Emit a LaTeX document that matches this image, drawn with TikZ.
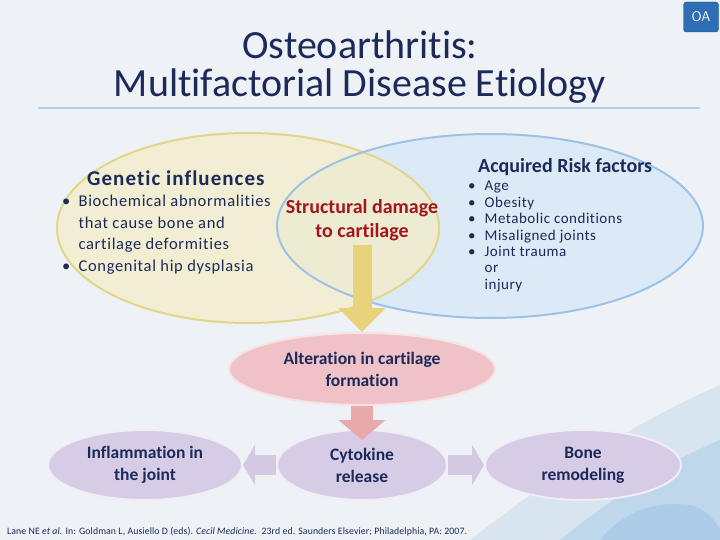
\documentclass[tikz,border=0pt]{standalone}
\usepackage{fontspec}
\setmainfont{Carlito}[Ligatures=NoCommon]
\usetikzlibrary{shapes.geometric,arrows.meta}
\definecolor{bgc}{HTML}{EEF2F6}
\definecolor{navy}{HTML}{1C2A5A}
\definecolor{oablue}{HTML}{2F6DB5}
\definecolor{yfill}{HTML}{F2EDCB}
\definecolor{ydraw}{HTML}{E3D58A}
\definecolor{bfill}{HTML}{DCE9F6}
\definecolor{bdraw}{HTML}{9EC2E6}
\definecolor{pinkf}{HTML}{EEC2C6}
\definecolor{pinkd}{HTML}{F7E2E4}
\definecolor{purf}{HTML}{D7CCE5}
\definecolor{purd}{HTML}{F1ECF6}
\definecolor{darkred}{HTML}{A3141C}
\definecolor{yarrow}{HTML}{E8D37C}
\definecolor{parrow}{HTML}{E9A9AA}
\definecolor{larrow}{HTML}{D3C9E2}
\definecolor{splash}{HTML}{5C9FD6}
\tikzset{
  txt/.style={text=navy, inner sep=0pt},
  oval/.style={ellipse, line width=2pt, inner sep=0pt},
  boldtxt/.style={txt, font=\bfseries\fontsize{17.5}{22}\selectfont, align=center}
}
\begin{document}
\begin{tikzpicture}[x=1pt,y=-1pt]
\useasboundingbox (0,0) rectangle (720,540);
\fill[bgc] (0,0) rectangle (720,540);
% watercolor splash
\fill[splash, opacity=0.15] (720,385) .. controls (640,420) and (560,470) .. (470,540) -- (720,540) -- cycle;
\fill[splash, opacity=0.2] (720,440) .. controls (660,465) and (610,500) .. (560,540) -- (720,540) -- cycle;
\fill[splash, opacity=0.18] (600,540) .. controls (620,515) and (650,500) .. (690,505) .. controls (705,508) and (715,520) .. (720,530) -- (720,540) -- cycle;
% OA tag
\node[fill=oablue, draw=oablue!70!black, rounded corners=3pt, minimum width=35pt, minimum height=30pt, text=white, font=\sffamily\fontsize{14}{14}\selectfont, inner sep=0pt] (oa) at (701,17) {OA};
% title
\node[txt, font=\fontsize{40}{38}\selectfont, align=center] (title) at (360,67) {Osteoarthritis:\\Multifactorial Disease Etiology};
\draw[bdraw!80, line width=1.2pt] (38,108) -- (700,108);
% ellipses: blue fill, yellow on top, blue outline last
\node[oval, fill=bfill, draw=none, minimum width=426pt, minimum height=184pt] (bell) at (490,226) {};
\node[oval, fill=yfill, fill opacity=0.8, draw=ydraw, minimum width=382pt, minimum height=190pt] (yell) at (248,228) {};
\node[oval, draw=bdraw, minimum width=426pt, minimum height=184pt] (bellline) at (490,226) {};
% genetic text
\node[txt, font=\bfseries\fontsize{21}{24}\selectfont\addfontfeature{LetterSpace=5}, anchor=base west] (gen) at (87,186) {Genetic influences};
\node[txt, font=\fontsize{16.5}{21.5}\selectfont\addfontfeature{LetterSpace=4}, align=left, anchor=north west] (genlist) at (62,195)
 {\textbullet\hspace{0.5em}Biochemical abnormalities\\
  \hphantom{\textbullet\hspace{0.5em}}that cause bone and\\
  \hphantom{\textbullet\hspace{0.5em}}cartilage deformities\\
  \textbullet\hspace{0.5em}Congenital hip dysplasia};
% structural damage
\node[text=darkred, inner sep=0pt, font=\bfseries\fontsize{20}{24}\selectfont, align=center] (sd) at (362,220) {Structural damage\\to cartilage};
% acquired
\node[txt, font=\bfseries\fontsize{20}{22}\selectfont, anchor=base west] (acq) at (478,173) {Acquired Risk factors};
\node[txt, font=\fontsize{15}{16.4}\selectfont\addfontfeature{LetterSpace=3.5}, align=left, anchor=north west] (acqlist) at (468,181)
 {\textbullet\hspace{0.6em}Age\\
  \textbullet\hspace{0.6em}Obesity\\
  \textbullet\hspace{0.6em}Metabolic conditions\\
  \textbullet\hspace{0.6em}Misaligned joints\\
  \textbullet\hspace{0.6em}Joint trauma\\
  \hphantom{\textbullet\hspace{0.6em}}or\\
  \hphantom{\textbullet\hspace{0.6em}}injury};
% alteration
\node[oval, fill=pinkf, draw=pinkd, minimum width=266pt, minimum height=72pt, boldtxt] (alt) at (362,369) {Alteration in cartilage\\formation};
% bottom row
\node[oval, fill=purf, draw=purd, minimum width=194pt, minimum height=70pt, boldtxt] (inf) at (145,465) {Inflammation in\\the joint};
\node[oval, fill=purf, draw=purd, minimum width=170pt, minimum height=70pt, boldtxt] (cyt) at (362,465) {Cytokine\\release};
\node[oval, fill=purf, draw=purd, minimum width=196pt, minimum height=70pt, boldtxt] (bone) at (583,465) {Bone\\remodeling};
% arrows
\coordinate (ys) at (362,245);
\coordinate (ptip) at (362,440);
\draw[yarrow, line width=19pt, -{Triangle[width=46pt,length=24pt]}] (ys) -- (alt.north);
\draw[parrow, line width=22pt, -{Triangle[width=46pt,length=20pt]}] (alt.south) -- (ptip);
\draw[larrow, line width=20pt, -{Triangle[width=40pt,length=12pt]}] (cyt.west) -- (inf.east);
\draw[larrow, line width=20pt, -{Triangle[width=40pt,length=12pt]}] (cyt.east) -- (bone.west);
% citation
\node[txt, font=\fontsize{9.8}{10}\selectfont\addfontfeature{LetterSpace=1}, anchor=base west] (cite) at (7,534) {Lane NE \textit{et al.} In: Goldman L, Ausiello D (eds). \textit{Cecil Medicine.}\ \ 23rd ed. Saunders Elsevier; Philadelphia, PA: 2007.};
\end{tikzpicture}
\end{document}
